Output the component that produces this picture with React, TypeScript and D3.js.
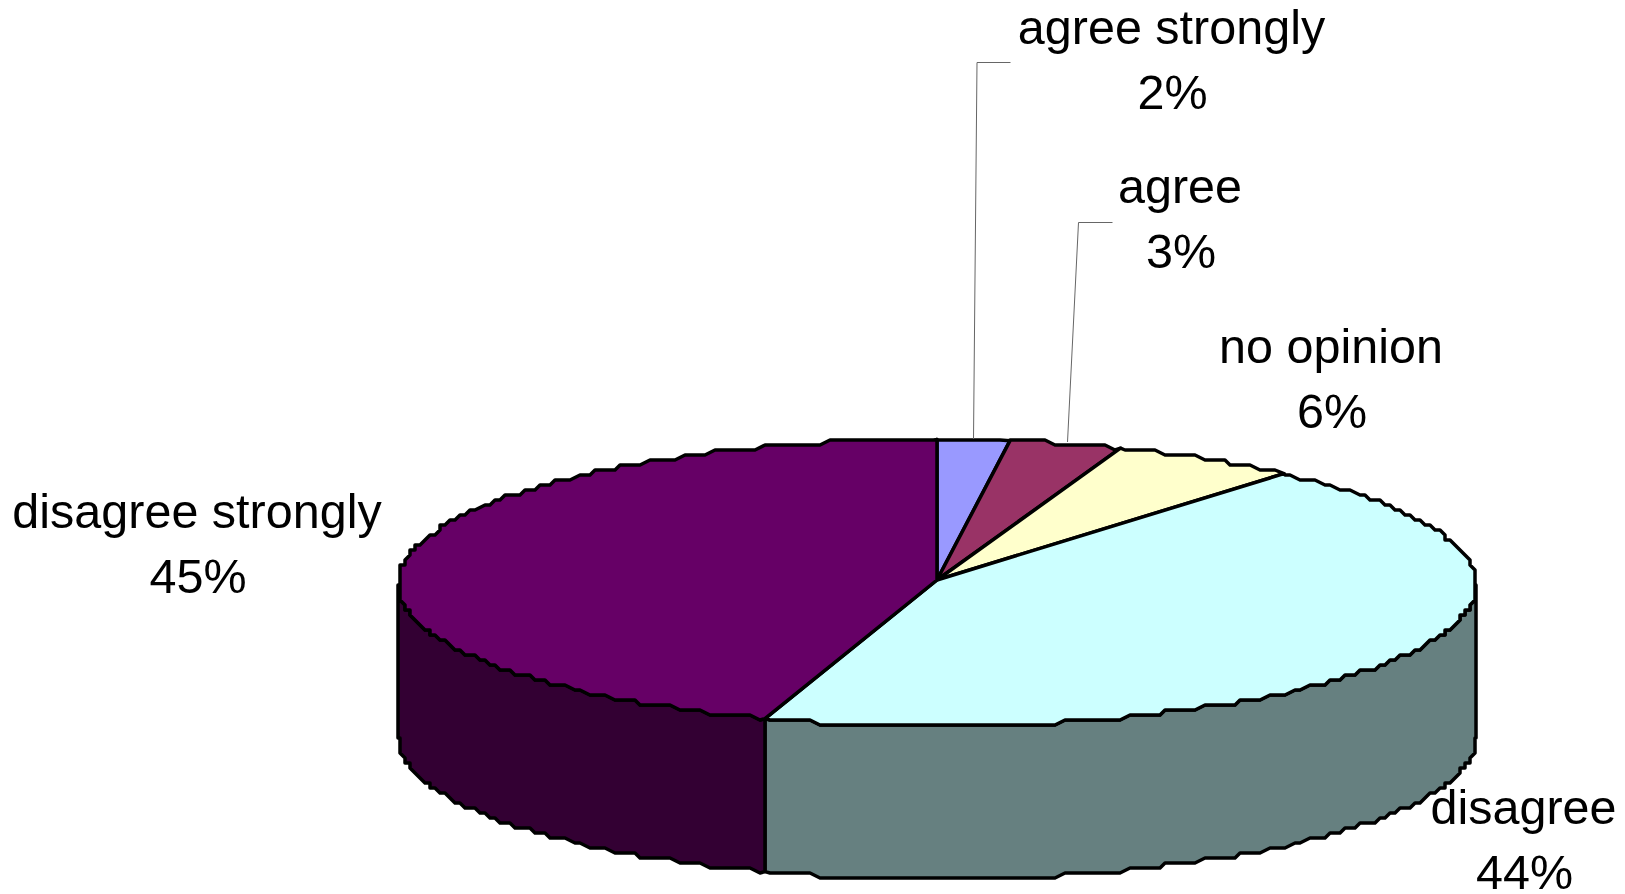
import * as d3 from "d3";

const categories = ["agree strongly", "agree", "no opinion", "disagree", "disagree strongly"];
// labels show whole percents, the slice edges sit a little off those
const values = [2.16, 3.37, 5.6, 44.04, 44.83];
const topColors = ["#9999FF", "#993366", "#FFFFCC", "#CCFFFF", "#660066"];
const sideColors = ["#4D4D80", "#4D1A33", "#808066", "#668080", "#330033"];

const WIDTH = 1625;
const HEIGHT = 894;
const cx = 937;
const hubY = 580;
const rimY = 585; // tilted pie: the rim's centre is below the hub
const rx = 539;
const ryBack = 145.5;
const ryFront = 141;
const depth = 153;
const GRID = 5; // the source outline is coarse, snap the rim to a grid to keep its steps
const STEP = 0.02;

// label anchor (centre x, first baseline) per category
const labelPos: [number, number][] = [
  [1171.5, 44],
  [1180, 203],
  [1331, 363],
  [1523.5, 824],
  [197, 528],
];
const percentShift = 1;
const LINE_GAP = 64.5;

const leaders: [number, number][][] = [
  [[1010.5, 62.5], [977, 62.5], [973.5, 439]],
  [[1112.5, 222.5], [1078.5, 222.5], [1067.5, 442]],
];

const snap = (v: number) => Math.round(v / GRID) * GRID;

function rimPoint(a: number): [number, number] {
  const c = Math.cos(a);
  return [cx + rx * Math.sin(a), rimY - (c > 0 ? ryBack : ryFront) * c];
}

// samples sit on a shared angle grid so neighbouring paths get the same steps
function rim(a0: number, a1: number, dy = 0): [number, number][] {
  const lo = Math.min(a0, a1);
  const hi = Math.max(a0, a1);
  const inner = d3
    .range(Math.ceil(lo / STEP), Math.floor(hi / STEP) + 1)
    .map((k) => rimPoint(k * STEP))
    .map(([x, y]): [number, number] => [snap(x), snap(y) + dy]);
  const [sx, sy] = rimPoint(lo);
  const [ex, ey] = rimPoint(hi);
  const pts: [number, number][] = [[sx, sy + dy], ...inner, [ex, ey + dy]];
  return a0 <= a1 ? pts : pts.reverse();
}

const line = d3.line<[number, number]>();
const slices = d3.pie<number>().sort(null)(values);

export default function App() {
  // only the part of the rim facing the viewer gets a side wall
  const walls = slices
    .map((s, i) => {
      const a0 = Math.max(s.startAngle, Math.PI / 2);
      const a1 = Math.min(s.endAngle, (3 * Math.PI) / 2);
      if (a1 <= a0) return null;
      const pts = [...rim(a0, a1), ...rim(a1, a0, depth)];
      return { i, d: line(pts) + "Z" };
    })
    .filter(Boolean) as { i: number; d: string }[];

  return (
    <svg
      width={WIDTH}
      height={HEIGHT}
      viewBox={`0 0 ${WIDTH} ${HEIGHT}`}
      style={{ position: "absolute", left: 0, top: 0, display: "block", background: "#fff" }}
      fontFamily="'Liberation Sans', Arial, sans-serif"
    >
      {walls.map((w) => (
        <path key={w.i} d={w.d} fill={sideColors[w.i]} stroke="#000" strokeWidth={3.5} strokeLinejoin="round" />
      ))}
      {slices.map((s, i) => (
        <path
          key={categories[i]}
          d={line([[cx, hubY], ...rim(s.startAngle, s.endAngle)]) + "Z"}
          fill={topColors[i]}
          stroke="#000"
          strokeWidth={3.5}
          strokeLinejoin="round"
        />
      ))}
      {leaders.map((l, i) => (
        <path key={i} d={line(l) ?? ""} fill="none" stroke="#666" strokeWidth={1} />
      ))}
      {categories.map((c, i) => (
        <text key={c} textAnchor="middle" fontSize={48.5} fill="#000">
          <tspan x={labelPos[i][0]} y={labelPos[i][1]}>{c}</tspan>
          <tspan x={labelPos[i][0] + percentShift} y={labelPos[i][1] + LINE_GAP}>{Math.round(values[i])}%</tspan>
        </text>
      ))}
    </svg>
  );
}
